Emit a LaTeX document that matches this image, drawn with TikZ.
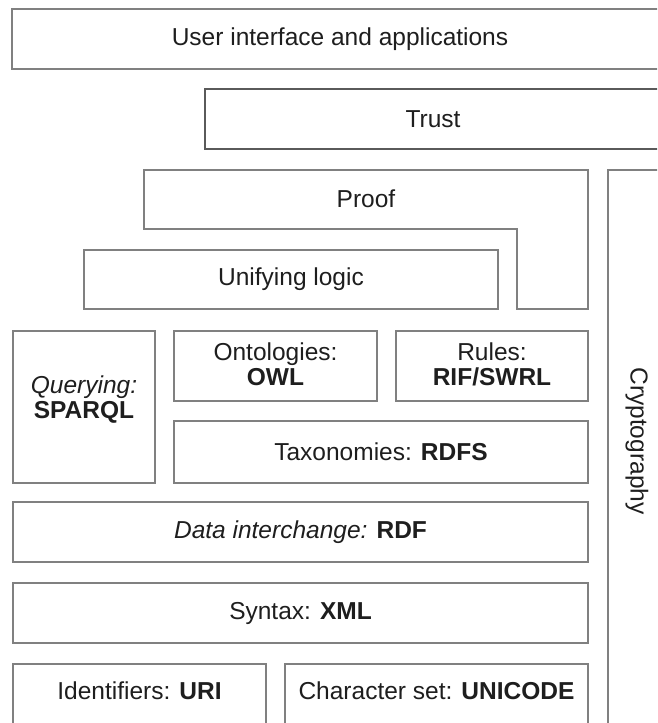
\documentclass[tikz,border=0pt]{standalone}
\usepackage{fontspec}
\setmainfont{Liberation Sans}
\definecolor{edge}{RGB}{128,128,128}
\definecolor{darkedge}{RGB}{90,90,90}
\definecolor{ink}{RGB}{30,30,30}
\begin{document}
\begin{tikzpicture}[x=1pt,y=-1pt,
  layer/.style={draw=edge, line width=2pt, fill=white, text=ink, inner sep=0pt,
    font=\fontsize{24.5}{25}\selectfont, align=center},
  txt/.style={text=ink, inner sep=0pt, font=\fontsize{24.5}{25}\selectfont, align=center},
  edgeline/.style={draw=edge, line width=2pt}]
\clip (0,0) rectangle (657,723);
\fill[white] (0,0) rectangle (657,723);
% top layers
\node[layer, minimum width=656, minimum height=60] (ui) at (340,39) {User interface and applications};
\node[layer, minimum width=456, minimum height=60, draw=darkedge] (trust) at (433,119) {Trust};
% proof (L-shaped)
\draw[edgeline, line join=miter] (144,170) -- (588,170) -- (588,309) -- (517,309) -- (517,229) -- (144,229) -- cycle;
\node[txt] (proof) at (366,199) {Proof};
\node[layer, minimum width=414, minimum height=59] (logic) at (291,279.5) {Unifying logic};
% cryptography
\draw[edgeline] (608,740) -- (608,170) -- (680,170);
\node[txt, rotate=-90] (crypto) at (637,441) {Cryptography};
% middle row
\node[layer, minimum width=142, minimum height=152] (query) at (84,407) {};
\node[txt] (querytxt) at (84,400) {\itshape Querying:\\ \bfseries SPARQL};
\node[layer, minimum width=203, minimum height=70] (onto) at (275.5,366) {};
\node[txt] (ontotxt) at (275.5,364) {Ontologies:\\ \bfseries OWL};
\node[layer, minimum width=192, minimum height=70] (rules) at (492,366) {};
\node[txt] (rulestxt) at (492,364) {Rules:\\ \bfseries RIF/SWRL};
\node[layer, minimum width=414, minimum height=62] (tax) at (381,452) {Taxonomies: \textbf{RDFS}};
% lower layers
\node[layer, minimum width=575, minimum height=60] (rdf) at (300.5,532) {\textit{Data interchange:} \textbf{RDF}};
\node[layer, minimum width=575, minimum height=60] (xml) at (300.5,613) {Syntax: \textbf{XML}};
\node[layer, minimum width=253, minimum height=62] (uri) at (139.5,695) {};
\node[txt] (uritxt) at (139.5,691) {Identifiers: \textbf{URI}};
\node[layer, minimum width=303, minimum height=62] (uni) at (436.5,695) {};
\node[txt] (unitxt) at (436.5,691) {Character set: \textbf{UNICODE}};
\end{tikzpicture}
\end{document}
